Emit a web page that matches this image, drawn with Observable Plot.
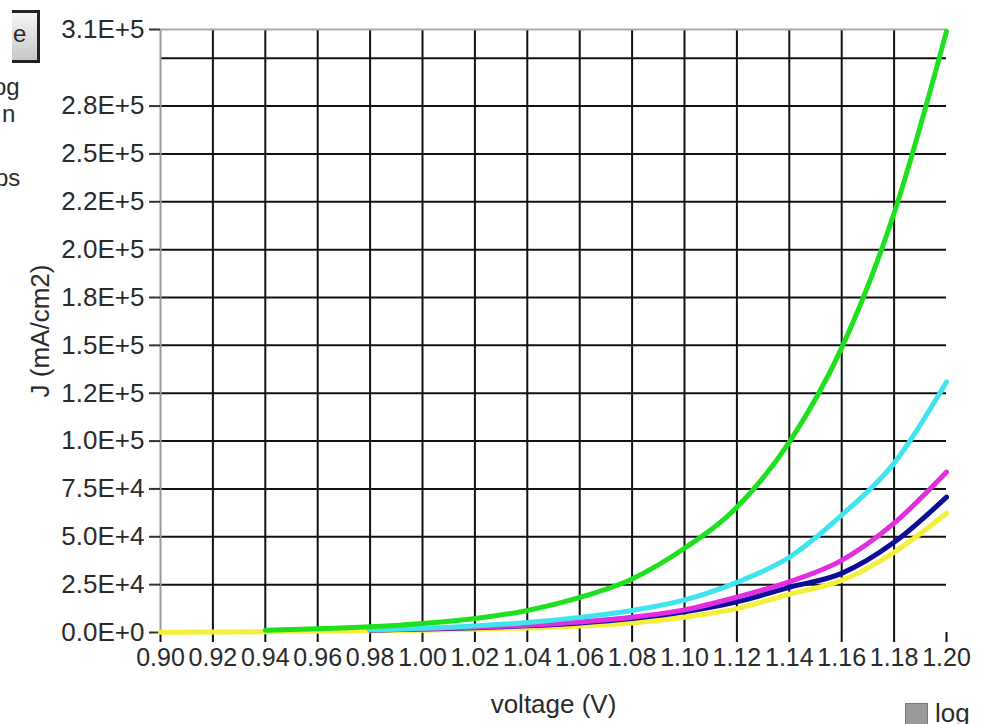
<!DOCTYPE html>
<html>
<head>
<meta charset="utf-8">
<script src="https://cdn.jsdelivr.net/npm/d3@7"></script>
<script src="https://cdn.jsdelivr.net/npm/@observablehq/plot@0.6"></script>
<style>
  html, body { margin: 0; padding: 0; background: #fff; overflow: hidden; }
  #wrap { position: relative; width: 982px; height: 724px; overflow: hidden; background: #fff;
          font-family: "Liberation Sans", Arial, sans-serif; color: #2a2a2a; }
  #chart { position: absolute; left: 0; top: 0; }
  .ui { position: absolute; font-size: 24px; line-height: 1; color: #2a2a2a; white-space: nowrap; }
</style>
</head>
<body>
<div id="wrap">
  <div id="chart"></div>
  <div class="ui" style="left:12px;top:10px;width:25px;height:47px;border:3px solid #222;border-left:none;background:linear-gradient(#f4f4f4,#c8c8c8);"></div>
  <div class="ui" style="left:13px;top:22px;">e</div>
  <div class="ui" style="left:-7px;top:75px;">og</div>
  <div class="ui" style="left:2px;top:102px;">n</div>
  <div class="ui" style="left:-5px;top:166px;">ps</div>
  <div class="ui" style="left:905px;top:703px;width:21px;height:21px;background:#999;border:1px solid #777;"></div>
  <div class="ui" style="left:935px;top:700px;font-size:26px;">log</div>
</div>
<script>
// ---- data ----
const voltages = [0.90, 0.92, 0.94, 0.96, 0.98, 1.00, 1.02, 1.04, 1.06, 1.08, 1.10, 1.12, 1.14, 1.16, 1.18, 1.20];
const greenJ   = [null, null, 1200, 1900, 3000, 4700, 7300, 11500, 18300, 28000, 44000, 65400, 99500, 148700, 219000, 314000];
const cyanJ    = [null, null, null, null, 1400, 2200, 3400, 5200, 7900, 11500, 17000, 26200, 39300, 61300, 88500, 130900];
const magentaJ = [null, null, null, null, 1300, 1900, 2700, 3800, 5500, 8000, 11800, 18500, 26500, 37700, 57100, 83800];
const navyJ    = [null, null, null, null, 1200, 1800, 2500, 3500, 5000, 7300, 10800, 16000, 23600, 30900, 47100, 70700];
const yellowJ  = [100, 200, 400, 600, 900, 1200, 1700, 2400, 3400, 5000, 8000, 12500, 20000, 27200, 41900, 62300];

const seriesNames  = ["yellow", "navy", "magenta", "cyan", "green"];
const seriesValues = [yellowJ, navyJ, magentaJ, cyanJ, greenJ];
const seriesColors = ["#f3ef3a", "#0c0c98", "#e02ee0", "#3fe4ee", "#1fe01f"];

const xTickValues = [0.90, 0.92, 0.94, 0.96, 0.98, 1.00, 1.02, 1.04, 1.06, 1.08, 1.10, 1.12, 1.14, 1.16, 1.18, 1.20];
const xGridValues = [0.92, 0.94, 0.96, 0.98, 1.00, 1.02, 1.04, 1.06, 1.08, 1.10, 1.12, 1.14, 1.16, 1.18];
const yMax = 315000;
const yTickValues = [0, 25000, 50000, 75000, 100000, 125000, 150000, 175000, 200000, 225000, 250000, 275000, yMax];
const yTickLabels = ["0.0E+0", "2.5E+4", "5.0E+4", "7.5E+4", "1.0E+5", "1.2E+5", "1.5E+5", "1.8E+5", "2.0E+5", "2.2E+5", "2.5E+5", "2.8E+5", "3.1E+5"];
const yGridValues = [25000, 50000, 75000, 100000, 125000, 150000, 175000, 200000, 225000, 250000, 275000, 300000];
const xLabel = "voltage (V)";
const yLabel = "J (mA/cm2)";

// ---- tidy table ----
const rows = [];
seriesNames.forEach((name, s) => {
  voltages.forEach((v, i) => {
    const j = seriesValues[s][i];
    if (j != null) rows.push({series: name, v, j});
  });
});

const lines = seriesNames.map((name, s) =>
  Plot.line(rows.filter(d => d.series === name), {
    x: "v", y: "j", stroke: seriesColors[s], strokeWidth: 5,
    strokeLinejoin: "round", strokeLinecap: "round", curve: "monotone-x"
  })
);

const FS = 26;
const chart = Plot.plot({
  width: 982,
  height: 724,
  marginLeft: 160,
  marginRight: 36,
  marginTop: 29,
  marginBottom: 92,
  style: {fontFamily: "Liberation Sans, Arial, sans-serif", fontSize: FS + "px", color: "#2a2a2a", background: "transparent"},
  x: {domain: [0.9, 1.2]},
  y: {domain: [0, yMax]},
  marks: [
    Plot.gridX(xGridValues, {stroke: "#111", strokeOpacity: 1, strokeWidth: 2}),
    Plot.gridY(yGridValues, {stroke: "#111", strokeOpacity: 1, strokeWidth: 2}),
    Plot.ruleX([0.9], {stroke: "#999", strokeWidth: 2}),
    Plot.ruleY([yMax], {stroke: "#aaa", strokeWidth: 2}),
    Plot.axisX(xTickValues, {
      tickSize: 10, tickPadding: 6, strokeWidth: 2, stroke: "#111",
      tickFormat: d3.format(".2f"), label: null, fontSize: 25
    }),
    Plot.axisY(yTickValues, {
      tickSize: 11, tickPadding: 5, strokeWidth: 2, stroke: "#333",
      tickFormat: (d) => yTickLabels[yTickValues.indexOf(d)], label: null, fontSize: FS
    }),
    Plot.text([xLabel], {frameAnchor: "bottom", text: d => d, dy: 72, lineAnchor: "middle", textAnchor: "middle", fontSize: FS, fill: "#2a2a2a"}),
    Plot.text([yLabel], {frameAnchor: "left", text: d => d, dx: -120, rotate: -90, lineAnchor: "middle", textAnchor: "middle", fontSize: FS, fill: "#2a2a2a"}),
    ...lines
  ]
});

document.getElementById("chart").appendChild(chart);
</script>
</body>
</html>
